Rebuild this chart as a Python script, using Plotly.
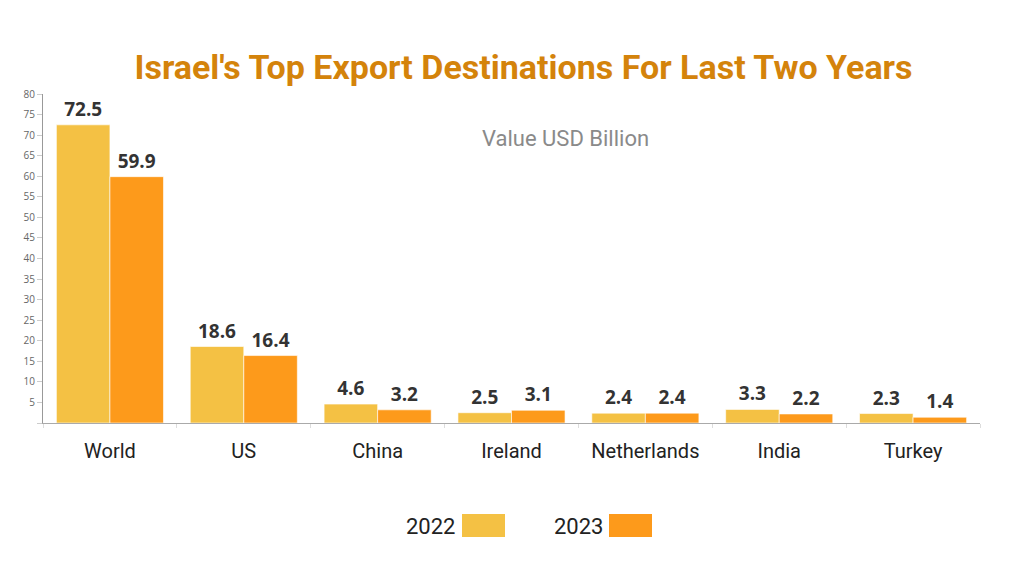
import plotly.graph_objects as go

categories = ["World", "US", "China", "Ireland", "Netherlands", "India", "Turkey"]
values_2022 = [72.5, 18.6, 4.6, 2.5, 2.4, 3.3, 2.3]
values_2023 = [59.9, 16.4, 3.2, 3.1, 2.4, 2.2, 1.4]
series_names = ["2022", "2023"]
tick_vals = [0, 5, 10, 15, 20, 25, 30, 35, 40, 45, 50, 55, 60, 65, 70, 75, 80]
tick_text = [""] + [str(v) for v in tick_vals[1:]]

colors = ["#F4C144", "#FD9A1B"]

# page is rendered with an 8px body margin, so the figure is 1016x568
W, H = 1016, 568
L, R, T, B = 35, 44, 86, 153
pw, ph = W - L - R, H - T - B


def px(x):  # page pixel -> paper x
    return (x - 8 - L) / pw


def py(y):  # page pixel -> paper y
    return (H - B - (y - 8)) / ph


fig = go.Figure()
for name, vals, col in zip(series_names, [values_2022, values_2023], colors):
    fig.add_trace(go.Bar(
        x=categories, y=vals, name=name,
        marker=dict(color=col, line=dict(color="rgba(255,255,255,0.6)", width=1)),
        text=[f"{v:.1f}" for v in vals], textposition="outside",
        textfont=dict(family="Open Sans", size=19, color="#333333", weight="bold"),
        cliponaxis=False, showlegend=False,
    ))

fig.update_layout(
    width=W, height=H,
    margin=dict(l=L, r=R, t=T, b=B, autoexpand=False),
    paper_bgcolor="white", plot_bgcolor="white",
    barmode="group", bargap=0.2, bargroupgap=0,
    title=dict(text="Israel's Top Export Destinations For Last Two Years",
               x=(523.5 - 8) / W, xanchor="center", y=1 - (67 - 8) / H, yanchor="middle",
               font=dict(family="Roboto", size=34, color="#D4830B", weight="bold")),
)

fig.add_annotation(text="Value USD Billion", x=px(565), y=py(138), xref="paper", yref="paper",
                   xanchor="center", yanchor="middle", showarrow=False,
                   font=dict(family="Roboto", size=22, color="#8A8A8A"))

legend_items = [("2022", 430, 462, 505), ("2023", 578, 609, 652)]
for (name, tx, x0, x1), col in zip(legend_items, colors):
    fig.add_annotation(text=name, x=px(tx), y=py(526), xref="paper", yref="paper",
                       xanchor="center", yanchor="middle", showarrow=False,
                       font=dict(family="Roboto", size=22, color="#222222"))
    fig.add_shape(type="rect", xref="paper", yref="paper",
                  x0=px(x0), x1=px(x1), y0=py(537), y1=py(514),
                  fillcolor=col, line=dict(width=0))

fig.update_xaxes(
    showline=True, linecolor="#aaaaaa", linewidth=1,
    tickfont=dict(family="Roboto", size=20, color="#222222"),
    ticks="outside", tickson="boundaries", ticklen=4, tickcolor="#dddddd",
    ticklabelstandoff=10,
    showgrid=False, automargin=False,
)
fig.update_yaxes(
    range=[0, 80], tickvals=tick_vals, ticktext=tick_text, showgrid=False,
    showline=True, linecolor="#999999", linewidth=1,
    ticks="outside", ticklen=5, tickcolor="#cccccc",
    tickfont=dict(family="Open Sans", size=10, color="#666666"),
    zeroline=False, automargin=False,
)

fig.write_html("out.html")
